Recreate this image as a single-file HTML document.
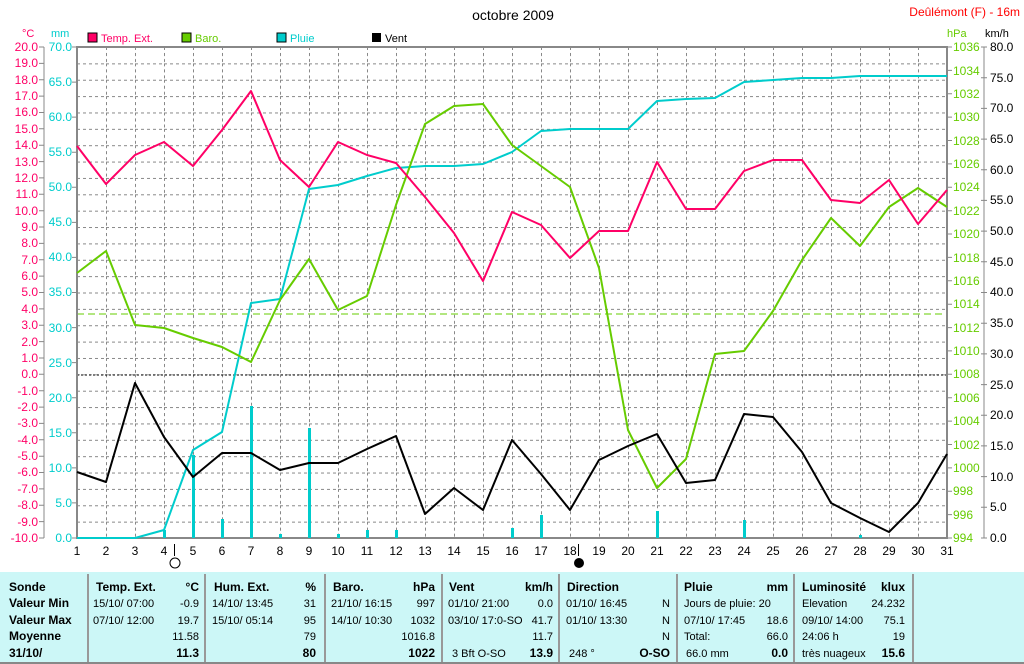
<!DOCTYPE html>
<html><head><meta charset="utf-8"><style>
html,body{margin:0;padding:0;background:#fff;}
svg{display:block;font-family:"Liberation Sans",sans-serif;}
</style></head><body>
<svg width="1024" height="664" viewBox="0 0 1024 664" xmlns="http://www.w3.org/2000/svg">
<defs>
<pattern id="g" x="77" y="47" width="29" height="16.367" patternUnits="userSpaceOnUse">
<line x1="0.5" y1="0" x2="0.5" y2="16.367" stroke="#888" stroke-dasharray="3,3" stroke-width="1"/>
<line x1="0" y1="0.5" x2="29" y2="0.5" stroke="#888" stroke-dasharray="3,3" stroke-width="1"/>
</pattern>
</defs>
<rect width="1024" height="664" fill="#fff"/>
<text x="513" y="20" font-size="14" text-anchor="middle">octobre 2009</text>
<text x="1020" y="16" font-size="12" fill="#f00" text-anchor="end">Deûlémont (F) - 16m</text>
<!-- legend -->
<rect x="88" y="33" width="9" height="9" fill="#f06" stroke="#000"/><text x="101" y="42" font-size="11" fill="#f06">Temp. Ext.</text>
<rect x="182" y="33" width="9" height="9" fill="#6c0" stroke="#000"/><text x="195" y="42" font-size="11" fill="#6c0">Baro.</text>
<rect x="277" y="33" width="9" height="9" fill="#0cc" stroke="#000"/><text x="290" y="42" font-size="11" fill="#0cc">Pluie</text>
<rect x="372" y="33" width="9" height="9" fill="#000"/><text x="385" y="42" font-size="11">Vent</text>
<text x="22" y="37" font-size="11" fill="#f06">°C</text>
<text x="51" y="37" font-size="11" fill="#0cc">mm</text>
<text x="947" y="37" font-size="11" fill="#6c0">hPa</text>
<text x="985" y="37" font-size="11">km/h</text>
<rect x="77" y="47" width="870" height="491" fill="url(#g)"/>
<line x1="77" y1="314" x2="947" y2="314" stroke="#6c0" stroke-dasharray="7,4"/>
<line x1="77" y1="375" x2="947" y2="375" stroke="#000" stroke-dasharray="2,2"/>
<!-- axes -->
<path d="M77,47 H947 V538 H77 Z" fill="none" stroke="#888" stroke-width="2"/>
<line x1="44" y1="47" x2="44" y2="538" stroke="#888"/>
<line x1="984" y1="47" x2="984" y2="538" stroke="#888"/>
<!-- rain bars -->
<g fill="#0cc">
<rect x="163" y="530" width="3" height="8"/><rect x="192" y="455" width="3" height="83"/><rect x="221" y="519" width="3" height="19"/>
<rect x="250" y="406" width="3" height="132"/><rect x="279" y="534" width="3" height="4"/><rect x="308" y="428" width="3" height="110"/>
<rect x="337" y="534" width="3" height="4"/><rect x="366" y="530" width="3" height="8"/><rect x="395" y="530" width="3" height="8"/>
<rect x="511" y="528" width="3" height="10"/><rect x="540" y="515" width="3" height="23"/><rect x="656" y="511" width="3" height="27"/>
<rect x="743" y="520" width="3" height="18"/><rect x="859" y="535" width="3" height="3"/>
</g>
<g fill="none" stroke-width="2" stroke-linejoin="round">
<polyline stroke="#0cc" points="77,538 106,538 135,538 164,530 193,450 222,432 251,303 280,299 309,189 338,185 367,176 396,168 425,166 454,166 483,164 512,152 541,131 570,129 599,129 628,129 657,101 686,99 715,98 744,82 773,80 802,78 831,78 860,76 889,76 918,76 947,76"/>
<polyline stroke="#6c0" points="77,273 106,251 135,325 164,328 193,338 222,347 251,362 280,300 309,259 338,310 367,296 396,205 425,124 454,106 483,104 512,145 541,166 570,187 599,268 628,430 657,488 686,459 715,354 744,351 773,311 802,260 831,218 860,246 889,207 918,188 947,207"/>
<polyline stroke="#f06" points="77,146 106,184 135,155 164,142 193,166 222,130 251,91 280,160 309,187 338,142 367,155 396,163 425,197 454,233 483,281 512,212 541,225 570,258 599,231 628,231 657,162 686,209 715,209 744,171 773,160 802,160 831,200 860,203 889,180 918,224 947,190"/>
<polyline stroke="#000" points="77,472 106,482 135,383 164,437 193,477 222,453 251,453 280,470 309,463 338,463 367,449 396,436 425,514 454,488 483,510 512,440 541,474 570,510 599,460 628,446 657,434 686,483 715,480 744,414 773,417 802,452 831,503 860,518 889,532 918,503 947,454"/>
</g>
<!-- left C labels -->
<g font-size="12" fill="#f06" text-anchor="end">
<text x="38" y="51">20.0</text><text x="38" y="67">19.0</text><text x="38" y="84">18.0</text><text x="38" y="100">17.0</text><text x="38" y="116">16.0</text><text x="38" y="133">15.0</text><text x="38" y="149">14.0</text><text x="38" y="166">13.0</text><text x="38" y="182">12.0</text><text x="38" y="198">11.0</text><text x="38" y="215">10.0</text><text x="38" y="231">9.0</text><text x="38" y="247">8.0</text><text x="38" y="264">7.0</text><text x="38" y="280">6.0</text><text x="38" y="296">5.0</text><text x="38" y="313">4.0</text><text x="38" y="329">3.0</text><text x="38" y="346">2.0</text><text x="38" y="362">1.0</text><text x="38" y="378">0.0</text><text x="38" y="395">-1.0</text><text x="38" y="411">-2.0</text><text x="38" y="427">-3.0</text><text x="38" y="444">-4.0</text><text x="38" y="460">-5.0</text><text x="38" y="476">-6.0</text><text x="38" y="493">-7.0</text><text x="38" y="509">-8.0</text><text x="38" y="526">-9.0</text><text x="38" y="542">-10.0</text>
</g>
<g stroke="#888">
<path d="M39,47h5M39,63.4h5M39,79.7h5M39,96.1h5M39,112.5h5M39,128.8h5M39,145.2h5M39,161.6h5M39,177.9h5M39,194.3h5M39,210.7h5M39,227h5M39,243.4h5M39,259.8h5M39,276.1h5M39,292.5h5M39,308.9h5M39,325.2h5M39,341.6h5M39,358h5M39,374.3h5M39,390.7h5M39,407.1h5M39,423.4h5M39,439.8h5M39,456.2h5M39,472.5h5M39,488.9h5M39,505.3h5M39,521.6h5M39,538h5"/>
<path d="M72,47h5M72,82.1h5M72,117.1h5M72,152.2h5M72,187.3h5M72,222.4h5M72,257.4h5M72,292.5h5M72,327.6h5M72,362.6h5M72,397.7h5M72,432.8h5M72,467.9h5M72,502.9h5M72,538h5"/>
<path d="M947,47h5M947,70.4h5M947,93.8h5M947,117.1h5M947,140.5h5M947,163.9h5M947,187.3h5M947,210.7h5M947,234h5M947,257.4h5M947,280.8h5M947,304.2h5M947,327.6h5M947,350.9h5M947,374.3h5M947,397.7h5M947,421.1h5M947,444.5h5M947,467.9h5M947,491.2h5M947,514.6h5M947,538h5"/>
<path d="M981,47h6M981,77.7h6M981,108.4h6M981,139.1h6M981,169.8h6M981,200.4h6M981,231.1h6M981,261.8h6M981,292.5h6M981,323.2h6M981,353.9h6M981,384.6h6M981,415.3h6M981,445.9h6M981,476.6h6M981,507.3h6M981,538h6"/>
</g>
<g font-size="12" fill="#0cc" text-anchor="end">
<text x="72" y="51">70.0</text><text x="72" y="86">65.0</text><text x="72" y="121">60.0</text><text x="72" y="156">55.0</text><text x="72" y="191">50.0</text><text x="72" y="226">45.0</text><text x="72" y="261">40.0</text><text x="72" y="296">35.0</text><text x="72" y="332">30.0</text><text x="72" y="367">25.0</text><text x="72" y="402">20.0</text><text x="72" y="437">15.0</text><text x="72" y="472">10.0</text><text x="72" y="507">5.0</text><text x="72" y="542">0.0</text>
</g>
<g font-size="12" fill="#6c0">
<text x="953" y="51">1036</text><text x="953" y="75">1034</text><text x="953" y="98">1032</text><text x="953" y="121">1030</text><text x="953" y="145">1028</text><text x="953" y="168">1026</text><text x="953" y="191">1024</text><text x="953" y="215">1022</text><text x="953" y="238">1020</text><text x="953" y="262">1018</text><text x="953" y="285">1016</text><text x="953" y="308">1014</text><text x="953" y="332">1012</text><text x="953" y="355">1010</text><text x="953" y="378">1008</text><text x="953" y="402">1006</text><text x="953" y="425">1004</text><text x="953" y="449">1002</text><text x="953" y="472">1000</text><text x="953" y="495">998</text><text x="953" y="519">996</text><text x="953" y="542">994</text>
</g>
<g font-size="12">
<text x="990" y="51">80.0</text><text x="990" y="82">75.0</text><text x="990" y="112">70.0</text><text x="990" y="143">65.0</text><text x="990" y="174">60.0</text><text x="990" y="204">55.0</text><text x="990" y="235">50.0</text><text x="990" y="266">45.0</text><text x="990" y="296">40.0</text><text x="990" y="327">35.0</text><text x="990" y="358">30.0</text><text x="990" y="389">25.0</text><text x="990" y="419">20.0</text><text x="990" y="450">15.0</text><text x="990" y="481">10.0</text><text x="990" y="511">5.0</text><text x="990" y="542">0.0</text>
</g>
<g font-size="12" text-anchor="middle">
<text x="77" y="555">1</text><text x="106" y="555">2</text><text x="135" y="555">3</text><text x="164" y="555">4</text><text x="193" y="555">5</text><text x="222" y="555">6</text><text x="251" y="555">7</text><text x="280" y="555">8</text><text x="309" y="555">9</text><text x="338" y="555">10</text><text x="367" y="555">11</text><text x="396" y="555">12</text><text x="425" y="555">13</text><text x="454" y="555">14</text><text x="483" y="555">15</text><text x="512" y="555">16</text><text x="541" y="555">17</text><text x="570" y="555">18</text><text x="599" y="555">19</text><text x="628" y="555">20</text><text x="657" y="555">21</text><text x="686" y="555">22</text><text x="715" y="555">23</text><text x="744" y="555">24</text><text x="773" y="555">25</text><text x="802" y="555">26</text><text x="831" y="555">27</text><text x="860" y="555">28</text><text x="889" y="555">29</text><text x="918" y="555">30</text><text x="947" y="555">31</text>
</g>
<line x1="174.5" y1="544" x2="174.5" y2="556" stroke="#000"/>
<circle cx="175" cy="563" r="5" fill="none" stroke="#000"/>
<line x1="578.5" y1="544" x2="578.5" y2="556" stroke="#000"/>
<circle cx="579" cy="563" r="4.5" fill="#000" stroke="#000"/>
<!-- table -->
<rect x="0" y="572" width="1024" height="92" fill="#ccf7f7"/>
<line x1="0" y1="663" x2="1024" y2="663" stroke="#888" stroke-width="2"/>
<g stroke="#999" stroke-width="2">
<line x1="88" y1="574" x2="88" y2="662"/><line x1="205" y1="574" x2="205" y2="662"/><line x1="325" y1="574" x2="325" y2="662"/><line x1="442" y1="574" x2="442" y2="662"/><line x1="559" y1="574" x2="559" y2="662"/><line x1="677" y1="574" x2="677" y2="662"/><line x1="794" y1="574" x2="794" y2="662"/><line x1="913" y1="574" x2="913" y2="662"/>
</g>
<g font-size="12" font-weight="bold">
<text x="9" y="591">Sonde</text><text x="9" y="607">Valeur Min</text><text x="9" y="624">Valeur Max</text><text x="9" y="640">Moyenne</text><text x="9" y="657">31/10/</text>
<text x="96" y="591">Temp. Ext.</text><text x="199" y="591" text-anchor="end">°C</text>
<text x="214" y="591">Hum. Ext.</text><text x="316" y="591" text-anchor="end">%</text>
<text x="333" y="591">Baro.</text><text x="435" y="591" text-anchor="end">hPa</text>
<text x="449" y="591">Vent</text><text x="553" y="591" text-anchor="end">km/h</text>
<text x="567" y="591">Direction</text>
<text x="684" y="591">Pluie</text><text x="788" y="591" text-anchor="end">mm</text>
<text x="802" y="591">Luminosité</text><text x="905" y="591" text-anchor="end">klux</text>
<text x="199" y="657" text-anchor="end">11.3</text><text x="316" y="657" text-anchor="end">80</text><text x="435" y="657" text-anchor="end">1022</text><text x="553" y="657" text-anchor="end">13.9</text><text x="670" y="657" text-anchor="end">O-SO</text><text x="788" y="657" text-anchor="end">0.0</text><text x="905" y="657" text-anchor="end">15.6</text>
</g>
<g font-size="11">
<text x="93" y="607">15/10/  07:00</text><text x="199" y="607" text-anchor="end">-0.9</text>
<text x="93" y="624">07/10/  12:00</text><text x="199" y="624" text-anchor="end">19.7</text>
<text x="199" y="640" text-anchor="end">11.58</text>
<text x="212" y="607">14/10/  13:45</text><text x="316" y="607" text-anchor="end">31</text>
<text x="212" y="624">15/10/  05:14</text><text x="316" y="624" text-anchor="end">95</text>
<text x="316" y="640" text-anchor="end">79</text>
<text x="331" y="607">21/10/  16:15</text><text x="435" y="607" text-anchor="end">997</text>
<text x="331" y="624">14/10/  10:30</text><text x="435" y="624" text-anchor="end">1032</text>
<text x="435" y="640" text-anchor="end">1016.8</text>
<text x="448" y="607">01/10/  21:00</text><text x="553" y="607" text-anchor="end">0.0</text>
<text x="448" y="624">03/10/  17:0-SO</text><text x="553" y="624" text-anchor="end">41.7</text>
<text x="553" y="640" text-anchor="end">11.7</text>
<text x="452" y="657">3 Bft O-SO</text>
<text x="566" y="607">01/10/  16:45</text><text x="670" y="607" text-anchor="end">N</text>
<text x="566" y="624">01/10/  13:30</text><text x="670" y="624" text-anchor="end">N</text>
<text x="670" y="640" text-anchor="end">N</text>
<text x="569" y="657">248 °</text>
<text x="684" y="607">Jours de pluie: 20</text>
<text x="684" y="624">07/10/  17:45</text><text x="788" y="624" text-anchor="end">18.6</text>
<text x="684" y="640">Total:</text><text x="788" y="640" text-anchor="end">66.0</text>
<text x="686" y="657">66.0 mm</text>
<text x="802" y="607">Elevation</text><text x="905" y="607" text-anchor="end">24.232</text>
<text x="802" y="624">09/10/  14:00</text><text x="905" y="624" text-anchor="end">75.1</text>
<text x="802" y="640">24:06 h</text><text x="905" y="640" text-anchor="end">19</text>
<text x="802" y="657">très nuageux</text>
</g>
</svg>
</body></html>
